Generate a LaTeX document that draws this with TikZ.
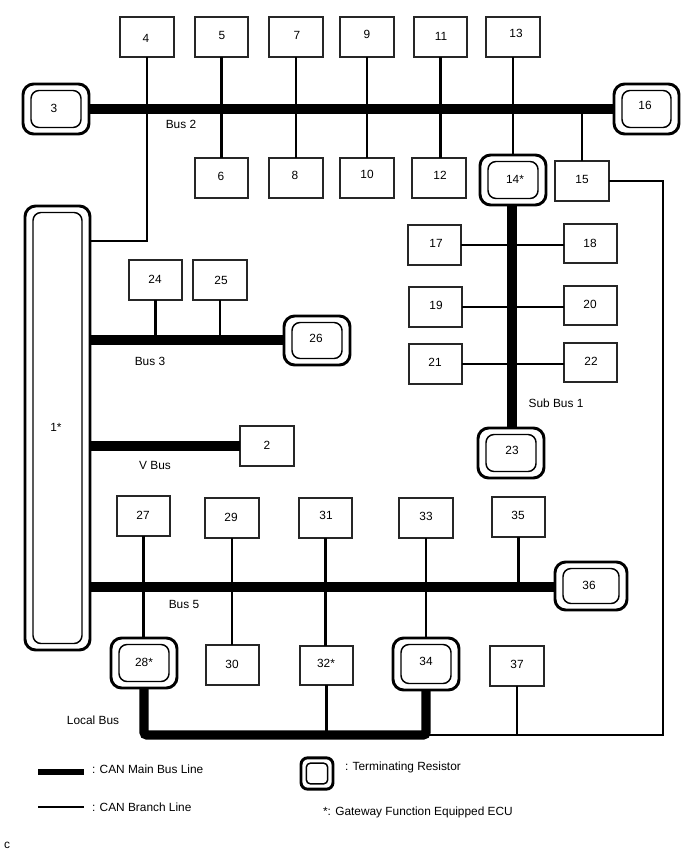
\documentclass[tikz,border=0pt]{standalone}
\usepackage{fontspec}
\setmainfont{Liberation Sans}
\tikzset{
  x=0.75pt, y=-0.75pt,
  every node/.style={font=\fontsize{8.9}{10}\selectfont, inner sep=0pt, outer sep=0pt},
  ecu/.style={draw=black!85, line width=1.4pt, fill=white},
  termouter/.style={draw=black, line width=2.2pt, rounded corners=8pt, fill=white},
  terminner/.style={draw=black, line width=1.1pt, rounded corners=6pt},
  mainbus/.style={line width=6.8pt, draw=black},
  branch/.style={line width=1.9pt, draw=black},
}
% plain ECU box: name, x1, y1, x2, y2, label x, label y, label
\newcommand{\ecubox}[8]{%
  \node[ecu, minimum width={(#4-#2)*0.75pt}, minimum height={(#5-#3)*0.75pt}] (#1) at ({(#2+#4)/2},{(#3+#5)/2}) {};
  \node (#1t) at (#7,#8) {#6};
}
% ECU with terminating resistor: a double rounded outline
\newcommand{\termbox}[8]{%
  \node[termouter, minimum width={(#4-#2)*0.75pt}, minimum height={(#5-#3)*0.75pt}] (#1) at ({(#2+#4)/2},{(#3+#5)/2}) {};
  \node[terminner, minimum width={(#4-#2-16)*0.75pt}, minimum height={(#5-#3-13)*0.75pt}] (#1i) at (#1.center) {};
  \node (#1t) at (#7,#8) {#6};
}
\begin{document}
\begin{tikzpicture}
\useasboundingbox (0,0) rectangle (688,852);

% bus junctions
\coordinate (b2) at (300,107);
\coordinate (b3) at (200,340);
\coordinate (b5) at (300,587);
\coordinate (lb) at (300,735);
\coordinate (sb) at (512,300);
\coordinate (cornerA) at (147,241);
\coordinate (cornerB) at (663,181);
\coordinate (cornerC) at (663,735);

% top row and the row below Bus 2
\ecubox{n4}{120}{17}{174}{57}{4}{146}{38}
\ecubox{n5}{195}{17}{248}{57}{5}{222}{35}
\ecubox{n7}{269}{17}{323}{57}{7}{297}{35}
\ecubox{n9}{340}{17}{394}{57}{9}{367}{34}
\ecubox{n11}{414}{17}{467}{57}{11}{441}{36}
\ecubox{n13}{486}{17}{540}{57}{13}{516}{33}
\ecubox{n6}{195}{158}{248}{198}{6}{221}{176}
\ecubox{n8}{269}{158}{323}{198}{8}{295}{175}
\ecubox{n10}{340}{158}{394}{198}{10}{367}{174}
\ecubox{n12}{412}{158}{466}{198}{12}{440}{175}
\ecubox{n15}{555}{161}{609}{201}{15}{582}{179}

% Sub Bus 1 group
\ecubox{n17}{408}{225}{461}{265}{17}{436}{243}
\ecubox{n18}{564}{224}{617}{263}{18}{590}{243}
\ecubox{n19}{409}{287}{462}{327}{19}{436}{305}
\ecubox{n20}{564}{286}{617}{325}{20}{590}{304}
\ecubox{n21}{409}{344}{462}{384}{21}{435}{362}
\ecubox{n22}{564}{343}{617}{382}{22}{591}{361}

% Bus 3 and V Bus
\ecubox{n24}{129}{260}{182}{300}{24}{155}{279}
\ecubox{n25}{193}{260}{247}{300}{25}{221}{280}
\ecubox{n2}{240}{426}{294}{466}{2}{267}{445}

% Bus 5 and Local Bus
\ecubox{n27}{117}{496}{170}{536}{27}{143}{515}
\ecubox{n29}{205}{498}{259}{538}{29}{231}{517}
\ecubox{n31}{299}{498}{352}{538}{31}{326}{515}
\ecubox{n33}{399}{498}{453}{538}{33}{426}{516}
\ecubox{n35}{492}{497}{545}{537}{35}{518}{515}
\ecubox{n30}{206}{645}{259}{685}{30}{232}{664}
\ecubox{n32}{300}{646}{353}{685}{32*}{326}{663}
\ecubox{n37}{490}{646}{544}{686}{37}{517}{664}

% ECUs with terminating resistors
\termbox{n3}{23}{84}{89}{134}{3}{54}{108}
\termbox{n16}{614}{84}{679}{134}{16}{645}{105}
\termbox{n14}{480}{155}{546}{205}{14*}{515}{179}
\termbox{n1}{25}{206}{90}{650}{1*}{56}{427}
\termbox{n26}{284}{316}{350}{365}{26}{316}{338}
\termbox{n23}{478}{428}{544}{478}{23}{512}{450}
\termbox{n36}{555}{562}{627}{610}{36}{589}{585}
\termbox{n28}{111}{638}{177}{688}{28*}{144}{662}
\termbox{n34}{393}{638}{459}{690}{34}{426}{661}

% main bus lines
\draw[mainbus] (n3.east) -- (n16.west);
\draw[mainbus] (n1.east |- b3) -- (n26.west |- b3);
\draw[mainbus] (n1.east |- n2.west) -- (n2.west);
\draw[mainbus] (n1.east |- b5) -- (n36.west |- b5);
\draw[mainbus] (n14.south -| sb) -- (n23.north -| sb);

% branches off Bus 2
\draw[branch] (n4.south) -- (cornerA) -- (n1.east |- cornerA);
\draw[branch] (n5.south -| n6.north) -- (n6.north);
\draw[branch] (n7.south -| n8.north) -- (n8.north);
\draw[branch] (n9.south) -- (n10.north);
\draw[branch] (n11.south) -- (n11.south |- n12.north);
\draw[branch] (n13.south) -- (n13.south |- n14.north);
\draw[branch] (n15.north) -- (n15.north |- b2);
\draw[branch] (n15.east |- cornerB) -- (cornerB) -- (cornerC) -- (lb);

% branches off Sub Bus 1
\draw[branch] (n17.east) -- (n18.west |- n17.east);
\draw[branch] (n19.east) -- (n20.west |- n19.east);
\draw[branch] (n21.east) -- (n22.west |- n21.east);

% branches off Bus 3
\draw[branch] (n24.south) -- (n24.south |- b3);
\draw[branch] (n25.south) -- (n25.south |- b3);

% branches off Bus 5
\draw[branch] (n27.south) -- (n27.south |- n28.north);
\draw[branch] (n29.south) -- (n29.south |- n30.north);
\draw[branch] (n31.south) -- (n31.south |- n32.north);
\draw[branch] (n33.south) -- (n33.south |- n34.north);
\draw[branch] (n35.south) -- (n35.south |- b5);

% Local Bus
\draw[mainbus, rounded corners=2pt] (n28.south) -- (n28.south |- lb) -- (n34.south |- lb) -- (n34.south);
\draw[branch] (n32.south) -- (n32.south |- lb);
\draw[branch] (n37.south) -- (n37.south |- lb);

% bus labels
\node (lBus2) at (181,124) {Bus 2};
\node (lBus3) at (150,361) {Bus 3};
\node (lVBus) at (155,465) {V Bus};
\node (lBus5) at (184,604) {Bus 5};
\node (lSub) at (556,403) {Sub Bus 1};
\node (lLocal) at (93,720) {Local Bus};

% legend
\coordinate (k1a) at (38,772);
\coordinate (k1b) at (84,772);
\coordinate (k2a) at (38,807);
\coordinate (k2b) at (84,807);
\draw[mainbus, line width=5.2pt] (k1a) -- (k1b);
\draw[branch] (k2a) -- (k2b);
\node[anchor=west] (k1t) at (92,769) {: CAN Main Bus Line};
\node[anchor=west] (k2t) at (92,807) {: CAN Branch Line};
\node[termouter, minimum width=24pt, minimum height=23.5pt, rounded corners=5pt] (k3) at (317,773.5) {};
\node[terminner, minimum width=16pt, minimum height=15.5pt, rounded corners=3pt] (k3i) at (k3.center) {};
\node[anchor=west] (k3t) at (345,767) {: Terminating Resistor};
\node[anchor=west] (k4t) at (323,812) {*: Gateway Function Equipped ECU};
\node (cmark) at (7,845) {c};
\end{tikzpicture}
\end{document}
